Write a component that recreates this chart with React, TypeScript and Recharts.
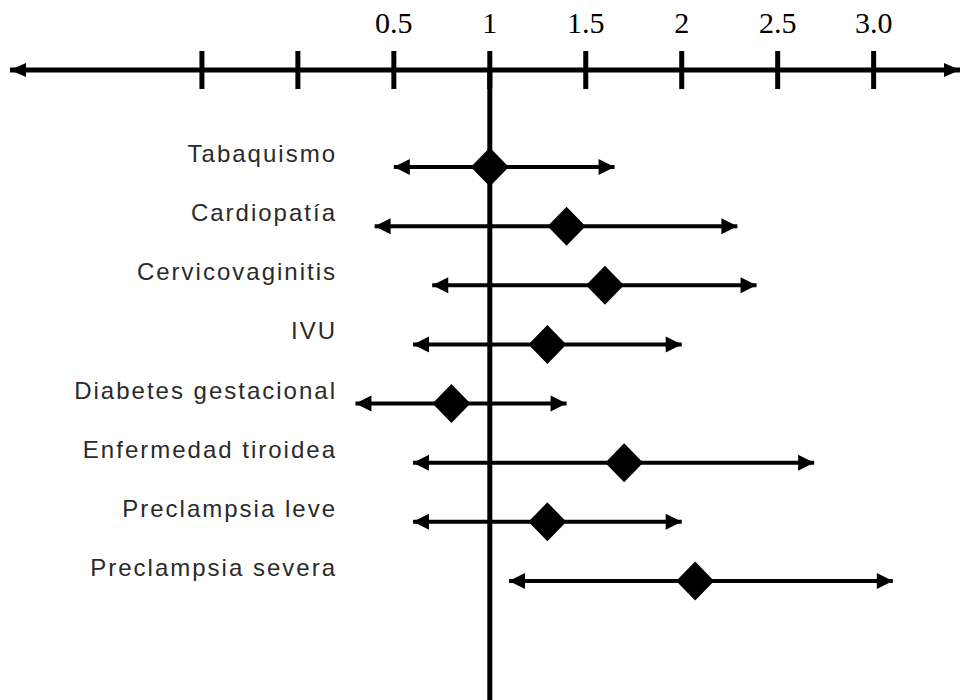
import React from "react";
import { ScatterChart, Scatter, XAxis, YAxis, ReferenceLine, ErrorBar } from "recharts";

// ---- data ----
const FACTORS = [
  "Tabaquismo",
  "Cardiopatía",
  "Cervicovaginitis",
  "IVU",
  "Diabetes gestacional",
  "Enfermedad tiroidea",
  "Preclampsia leve",
  "Preclampsia severa",
];
const ODDS_RATIO = [1.0, 1.4, 1.6, 1.3, 0.8, 1.7, 1.3, 2.07];
const CI_LOW = [0.5, 0.4, 0.7, 0.6, 0.3, 0.6, 0.6, 1.1];
const CI_HIGH = [1.65, 2.29, 2.39, 2.0, 1.4, 2.69, 2.0, 3.1];

const TICK_VALUES = [-0.5, 0, 0.5, 1, 1.5, 2, 2.5, 3];
const TICK_LABELS = ["", "", "0.5", "1", "1.5", "2", "2.5", "3.0"];
const AXIS_MIN = -1.5;
const AXIS_MAX = 3.45;
const REF_VALUE = 1;

const pointRows = FACTORS.map((name, i) => ({
  name,
  v: ODDS_RATIO[i],
  err: [ODDS_RATIO[i] - CI_LOW[i], CI_HIGH[i] - ODDS_RATIO[i]],
}));
const lowRows = FACTORS.map((name, i) => ({ name, v: CI_LOW[i] }));
const highRows = FACTORS.map((name, i) => ({ name, v: CI_HIGH[i] }));

const W = 961;
const H = 700;
const INK = "#000";
const LABEL_RIGHT = 337;

const AxisTick = (props: any) => {
  const { x, y, payload } = props;
  const v = payload.value;
  if (v === AXIS_MIN) {
    return <polygon points={`${x},${y} ${x + 16},${y - 7} ${x + 16},${y + 7}`} fill={INK} />;
  }
  if (v === AXIS_MAX) {
    return <polygon points={`${x},${y} ${x - 16},${y - 7} ${x - 16},${y + 7}`} fill={INK} />;
  }
  const idx = TICK_VALUES.indexOf(v);
  const label = idx >= 0 ? TICK_LABELS[idx] : "";
  return (
    <g>
      <line x1={x} x2={x} y1={y - 19} y2={y + 19} stroke={INK} strokeWidth={5} />
      {label ? (
        <text
          x={x}
          y={y - 37}
          textAnchor="middle"
          fontFamily="'Liberation Serif', 'Times New Roman', serif"
          fontSize={30}
          fill={INK}
        >
          {label}
        </text>
      ) : null}
    </g>
  );
};

const FactorTick = (props: any) => {
  const { y, payload } = props;
  return (
    <text
      x={LABEL_RIGHT}
      y={y - 5}
      textAnchor="end"
      fontFamily="'Liberation Sans', Arial, sans-serif"
      fontSize={24}
      letterSpacing={2}
      fill="#2a2a2a"
    >
      {payload.value}
    </text>
  );
};

const Diamond = (props: any) => {
  const { cx, cy } = props;
  return (
    <polygon
      points={`${cx},${cy - 19.5} ${cx + 19},${cy} ${cx},${cy + 19.5} ${cx - 19},${cy}`}
      fill={INK}
    />
  );
};

const LeftArrow = (props: any) => {
  const { cx, cy } = props;
  return <polygon points={`${cx},${cy} ${cx + 16},${cy - 8} ${cx + 16},${cy + 8}`} fill={INK} />;
};

const RightArrow = (props: any) => {
  const { cx, cy } = props;
  return <polygon points={`${cx},${cy} ${cx - 16},${cy - 8} ${cx - 16},${cy + 8}`} fill={INK} />;
};

export default function App() {
  return (
    <div style={{ position: "absolute", left: 0, top: 0, width: W, height: H, background: "#fff" }}>
      <ScatterChart width={W} height={H} margin={{ top: 40, right: 1, bottom: 0, left: 9 }}>
        <XAxis
          type="number"
          dataKey="v"
          orientation="top"
          domain={[AXIS_MIN, AXIS_MAX]}
          allowDataOverflow
          ticks={[AXIS_MIN, ...TICK_VALUES, AXIS_MAX]}
          interval={0}
          height={30}
          axisLine={{ stroke: INK, strokeWidth: 5 }}
          tickLine={false}
          tickSize={0}
          tickMargin={0}
          tick={<AxisTick />}
        />
        <YAxis
          type="category"
          dataKey="name"
          allowDuplicatedCategory={false}
          scale="point"
          reversed
          padding={{ top: 97, bottom: 119 }}
          width={1}
          axisLine={false}
          tickLine={false}
          interval={0}
          tick={<FactorTick />}
        />
        <ReferenceLine x={REF_VALUE} stroke={INK} strokeWidth={5} />
        <Scatter data={pointRows} shape={<Diamond />} isAnimationActive={false}>
          <ErrorBar dataKey="err" direction="x" width={0} stroke={INK} strokeWidth={4} isAnimationActive={false} />
        </Scatter>
        <Scatter data={lowRows} shape={<LeftArrow />} isAnimationActive={false} />
        <Scatter data={highRows} shape={<RightArrow />} isAnimationActive={false} />
      </ScatterChart>
    </div>
  );
}
